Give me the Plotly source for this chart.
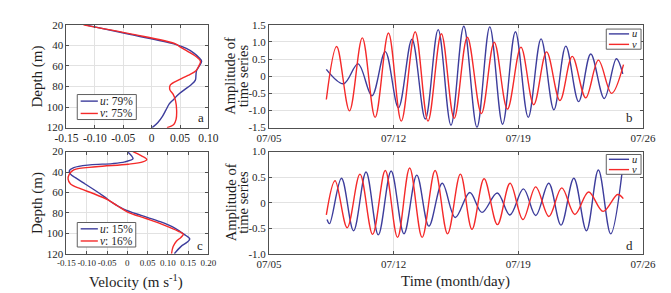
import plotly.graph_objects as go

# ---------------- data ----------------
# panel a: vertical profiles (velocity, m/s) vs depth (m)
a_u_depth = [20, 29.2, 38.5, 43, 47.7, 52.3, 55.4, 60, 64.6, 69.2, 73.8, 78.5, 83, 87.7, 92.3, 96.9, 103, 109, 115, 120]
a_u_vel = [-0.117, -0.039, 0.039, 0.061, 0.075, 0.084, 0.088, 0.084, 0.079, 0.078, 0.077, 0.069, 0.058, 0.047, 0.039, 0.031, 0.025, 0.019, 0.011, 0.001]
a_v_depth = [20, 28.6, 38.5, 41.5, 46, 50.8, 55.4, 60, 64.6, 69.2, 73.8, 78.5, 83, 87.7, 93.8, 103, 112, 116.9, 120]
a_v_vel = [-0.12, -0.039, 0.042, 0.050, 0.064, 0.078, 0.086, 0.083, 0.078, 0.064, 0.047, 0.033, 0.032, 0.038, 0.042, 0.044, 0.043, 0.039, 0.027]

# panel c
c_u_depth = [20.6, 24, 27, 30, 31.7, 33, 35.7, 38.8, 42, 45.5, 51.7, 57.8, 64, 70, 76.3, 82.5, 88.6, 94.8, 101, 105.5, 108.6, 113, 120]
c_u_vel = [0.002, 0.010, 0.014, -0.006, -0.037, -0.092, -0.132, -0.143, -0.140, -0.128, -0.104, -0.080, -0.057, -0.037, -0.009, 0.034, 0.081, 0.117, 0.140, 0.154, 0.148, 0.132, 0.116]
c_v_depth = [20, 24, 27.7, 30, 32.3, 34.8, 37.8, 42, 47, 51.7, 56.3, 61, 67, 73, 79.4, 85.5, 91.7, 97.8, 101, 104, 107.7, 113, 120]
c_v_vel = [0.014, 0.034, 0.048, 0.038, 0.002, -0.077, -0.132, -0.143, -0.146, -0.140, -0.116, -0.084, -0.049, -0.025, 0.002, 0.046, 0.089, 0.125, 0.138, 0.132, 0.121, 0.113, 0.109]

# panel b: time series (day of July) -- start, extremes, end
b_u_t = [8.22, 9.19, 10.00, 10.78, 11.53, 12.27, 13.03, 13.78, 14.50, 15.22, 15.94, 16.68, 17.40, 18.12, 18.84, 19.56, 20.28, 21.00, 21.67, 22.39, 23.07, 23.83, 24.51, 24.87]
b_u_amp = [0.20, -0.22, 0.36, -0.57, 0.72, -0.92, 1.08, -1.25, 1.36, -1.43, 1.46, -1.49, 1.44, -1.40, 1.30, -1.20, 1.09, -0.98, 0.88, -0.74, 0.65, -0.65, 0.51, 0.07]
b_v_t = [8.22, 8.80, 9.52, 10.24, 10.96, 11.71, 12.43, 13.21, 13.93, 14.68, 15.40, 16.14, 16.93, 17.65, 18.39, 19.15, 19.87, 20.59, 21.34, 22.03, 22.79, 23.50, 24.24, 24.91]
b_v_amp = [-0.68, 0.87, -1.01, 1.12, -1.20, 1.26, -1.31, 1.30, -1.31, 1.24, -1.23, 1.14, -1.09, 0.99, -0.96, 0.85, -0.83, 0.71, -0.71, 0.58, -0.63, 0.47, -0.50, 0.34]

# panel d
d_u_t = [8.26, 8.40, 9.07, 9.75, 10.45, 11.14, 11.86, 12.58, 13.30, 13.98, 14.73, 15.46, 16.28, 16.96, 17.82, 18.53, 19.29, 19.98, 20.71, 21.40, 22.12, 22.83, 23.50, 24.19, 24.90]
d_u_amp = [-0.33, -0.41, 0.48, -0.55, 0.60, -0.63, 0.62, -0.61, 0.54, -0.46, 0.38, -0.29, 0.20, -0.19, 0.19, -0.24, 0.27, -0.25, 0.38, -0.44, 0.48, -0.55, 0.64, -0.61, 0.80]
d_v_t = [8.22, 8.71, 9.39, 10.11, 10.82, 11.53, 12.22, 12.90, 13.60, 14.33, 15.03, 15.75, 16.40, 17.08, 17.83, 18.54, 19.26, 19.98, 20.72, 21.44, 22.18, 22.95, 23.76, 24.58, 24.90]
d_v_amp = [-0.24, 0.43, -0.49, 0.56, -0.62, 0.63, -0.68, 0.68, -0.68, 0.63, -0.61, 0.56, -0.52, 0.47, -0.43, 0.38, -0.33, 0.31, -0.27, 0.29, -0.23, 0.21, -0.17, 0.16, 0.08]

# tick labels
depth_ticks = [20, 40, 60, 80, 100, 120]
a_x_ticks = [-0.15, -0.10, -0.05, 0, 0.05, 0.10]
a_x_text = ["-0.15", "-0.10", "-0.05", "0", "0.05", "0.10"]
c_x_ticks = [-0.15, -0.10, -0.05, 0, 0.05, 0.10, 0.15, 0.20]
c_x_text = ["-0.15", "-0.10", "-0.05", "0", "0.05", "0.10", "0.15", "0.20"]
time_ticks = [5, 12, 19, 26]
time_text = ["07/05", "07/12", "07/19", "07/26"]
b_y_ticks = [1.5, 1.0, 0.5, 0, -0.5, -1.0, -1.5]
b_y_text = ["1.5", "1.0", "0.5", "0", "-0.5", "-1.0", "-1.5"]
d_y_ticks = [1.0, 0.5, 0, -0.5, -1.0]
d_y_text = ["1.0", "0.5", "0", "-0.5", "-1.0"]

legend_a = ["<i>u</i>: 79%", "<i>v</i>: 75%"]
legend_c = ["<i>u</i>: 15%", "<i>v</i>: 16%"]
legend_bd = ["<i>u</i>", "<i>v</i>"]

# ---------------- style ----------------
BLUE = "#3d3d9c"
RED = "#f42a2a"
FONT = "Liberation Serif"
TXT = "#1e1e1e"
LW = 1.4

fig = go.Figure()

def add_line(x, y, color, xa, ya):
    fig.add_trace(go.Scatter(x=x, y=y, mode="lines", xaxis=xa, yaxis=ya,
                             line=dict(color=color, width=LW, shape="spline", smoothing=1),
                             showlegend=False, hoverinfo="skip"))

add_line(a_u_vel, a_u_depth, BLUE, "x", "y")
add_line(a_v_vel, a_v_depth, RED, "x", "y")
add_line(b_u_t, b_u_amp, BLUE, "x2", "y2")
add_line(b_v_t, b_v_amp, RED, "x2", "y2")
add_line(c_u_vel, c_u_depth, BLUE, "x3", "y3")
add_line(c_v_vel, c_v_depth, RED, "x3", "y3")
add_line(d_u_t, d_u_amp, BLUE, "x4", "y4")
add_line(d_v_t, d_v_amp, RED, "x4", "y4")

LEFT = [0.0705, 0.2906]
RIGHT = [0.3845, 0.9642]
TOP = [0.5956, 0.9614]
BOT = [0.1468, 0.5102]

def ax(domain, rng, tv, tt, anchor, fs=11):
    return dict(domain=domain, range=rng, tickvals=tv, ticktext=tt, anchor=anchor,
                showline=True, mirror="ticks", linecolor="#505050", linewidth=1,
                ticks="inside", ticklen=3, tickcolor="#505050", tickangle=0,
                showgrid=True, gridcolor="#e2e2e2", gridwidth=1, zeroline=False,
                tickfont=dict(family=FONT, size=fs, color=TXT))

fig.update_layout(
    width=671, height=293, autosize=False,
    margin=dict(l=0, r=0, t=0, b=0),
    paper_bgcolor="white", plot_bgcolor="white",
    showlegend=False,
    font=dict(family=FONT, color=TXT),
    xaxis=ax(LEFT, [-0.15, 0.10], a_x_ticks, a_x_text, "y", 11.5),
    yaxis=ax(TOP, [120, 20], depth_ticks, [str(v) for v in depth_ticks], "x"),
    xaxis2=ax(RIGHT, [5, 26], time_ticks, time_text, "y2"),
    yaxis2=ax(TOP, [-1.5, 1.5], b_y_ticks, b_y_text, "x2"),
    xaxis3=ax(LEFT, [-0.15, 0.20], c_x_ticks, c_x_text, "y3", 9),
    yaxis3=ax(BOT, [120, 20], depth_ticks, [str(v) for v in depth_ticks], "x3"),
    xaxis4=ax(RIGHT, [5, 26], time_ticks, time_text, "y4"),
    yaxis4=ax(BOT, [-1.0, 1.0], d_y_ticks, d_y_text, "x4"),
)

shapes = []
anns = []

def legend(xn, yn, x0, x1, y0, y1, rows, labels, lx0, lx1, tx, fs):
    xref_, yref_ = xn + " domain", yn + " domain"
    shapes.append(dict(type="rect", xref=xref_, yref=yref_, x0=x0, x1=x1, y0=y0, y1=y1,
                       fillcolor="white", line=dict(color="#606060", width=1), layer="above"))
    for ry, lab, col in zip(rows, labels, [BLUE, RED]):
        shapes.append(dict(type="line", xref=xref_, yref=yref_, x0=lx0, x1=lx1, y0=ry, y1=ry,
                           line=dict(color=col, width=LW), layer="above"))
        anns.append(dict(xref=xref_, yref=yref_, x=tx, y=ry, text=lab, showarrow=False,
                         xanchor="left", yanchor="middle", borderpad=0,
                         font=dict(family=FONT, size=fs, color=TXT)))

legend("x", "y", 0.076, 0.492, 0.079, 0.322, [0.258, 0.138], legend_a, 0.10, 0.221, 0.232, 11.5)
legend("x3", "y3", 0.076, 0.488, 0.066, 0.306, [0.244, 0.125], legend_c, 0.10, 0.221, 0.232, 11.5)
legend("x2", "y2", 0.902, 0.995, 0.763, 0.959, [0.912, 0.810], legend_bd, 0.909, 0.963, 0.968, 10.5)
legend("x4", "y4", 0.902, 0.995, 0.778, 0.972, [0.925, 0.824], legend_bd, 0.909, 0.963, 0.968, 10.5)

def label(xn, yn, x, y, t):
    anns.append(dict(xref=xn + " domain", yref=yn + " domain", x=x, y=y, text=t, showarrow=False,
                     xanchor="center", yanchor="middle", font=dict(family=FONT, size=13, color=TXT)))

label("x", "y", 0.95, 0.098, "a")
label("x2", "y2", 0.963, 0.095, "b")
label("x3", "y3", 0.944, 0.078, "c")
label("x4", "y4", 0.963, 0.078, "d")

# axis titles
def vtitle(xn, yn, x, t, fs):
    anns.append(dict(xref=xn + " domain", yref=yn + " domain", x=x, y=0.5, text=t, showarrow=False,
                     textangle=-90, xanchor="center", yanchor="middle",
                     font=dict(family=FONT, size=fs, color=TXT)))

vtitle("x", "y", -0.205, "Depth (m)", 15)
vtitle("x3", "y3", -0.205, "Depth (m)", 15)
for xn, yn in [("x2", "y2"), ("x4", "y4")]:
    vtitle(xn, yn, -0.1028, "Amplitude of", 14.5)
    vtitle(xn, yn, -0.0694, "time series", 14.5)

anns.append(dict(xref="x3 domain", yref="y3 domain", x=0.49, y=-0.272, text="Velocity (m s<sup>-1</sup>)",
                 showarrow=False, xanchor="center", yanchor="middle",
                 font=dict(family=FONT, size=15, color=TXT)))
anns.append(dict(xref="x4 domain", yref="y4 domain", x=0.5, y=-0.272, text="Time (month/day)",
                 showarrow=False, xanchor="center", yanchor="middle",
                 font=dict(family=FONT, size=15, color=TXT)))

fig.update_layout(shapes=shapes, annotations=anns)
fig.write_html("out.html")
